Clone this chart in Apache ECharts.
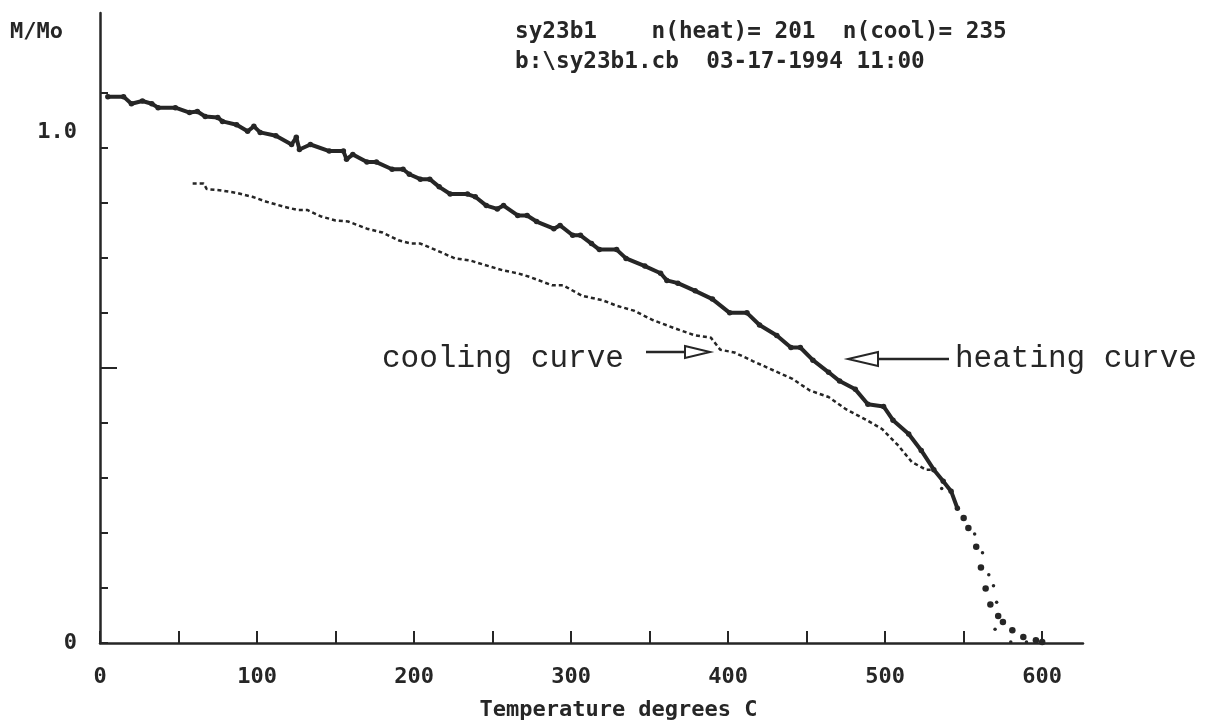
<!DOCTYPE html>
<html>
<head>
<meta charset="utf-8">
<script src="https://cdn.jsdelivr.net/npm/echarts@6/dist/echarts.min.js"></script>
<style>
html,body{margin:0;padding:0;background:#fff;}
#chart{width:1209px;height:723px;}
</style>
</head>
<body>
<div id="chart"></div>
<script>
// ---- data ----
var heatT = [5,15,20,27,33,37,48,57,62,67,75,78,87,94,98,102,112,122,125,127,134,146,155,157,161,170,176,186,193,197,204,210,216,223,234,239,246,253,257,266,272,278,289,293,301,306,313,318,329,335,347,357,361,368,379,390,401,412,420,431,440,446,454,464,471,481,489,499,505,515,523,531,537,542,546,
             550,553,558,561,564,567,572,575,581,588,596,600];
var heatM = [0.993,0.993,0.980,0.985,0.980,0.973,0.973,0.964,0.966,0.957,0.955,0.948,0.942,0.930,0.939,0.928,0.922,0.906,0.919,0.897,0.906,0.894,0.894,0.879,0.888,0.874,0.874,0.861,0.861,0.852,0.843,0.843,0.829,0.816,0.816,0.811,0.795,0.789,0.795,0.777,0.777,0.766,0.753,0.759,0.741,0.741,0.726,0.715,0.715,0.699,0.685,0.672,0.659,0.654,0.640,0.625,0.600,0.600,0.578,0.559,0.537,0.537,0.514,0.492,0.476,0.461,0.434,0.430,0.405,0.380,0.350,0.315,0.294,0.276,0.245,
             0.227,0.209,0.175,0.137,0.099,0.070,0.049,0.038,0.023,0.011,0.005,0.002];
var coolT = [59,66,68,76,87,97,106,117,126,132,141,150,158,170,180,190,198,204,214,226,236,245,257,266,274,288,295,307,320,329,340,352,365,379,389,395,404,416,430,441,452,464,475,487,498,508,517,526,531,
             536,557,562,566,569,571,570,580,590];
var coolM = [0.835,0.835,0.825,0.823,0.818,0.811,0.802,0.793,0.787,0.787,0.775,0.768,0.766,0.753,0.746,0.732,0.726,0.726,0.714,0.699,0.695,0.687,0.677,0.672,0.665,0.650,0.650,0.631,0.623,0.613,0.604,0.587,0.573,0.559,0.555,0.533,0.528,0.512,0.494,0.480,0.459,0.447,0.425,0.407,0.389,0.360,0.329,0.315,0.315,
             0.281,0.198,0.164,0.124,0.104,0.074,0.025,0.002,0.002];
var xTickValues = [0,50,100,150,200,250,300,350,400,450,500,550,600];
var xLabelValues = [0,100,200,300,400,500,600];
var yTickValues = [0,0.1,0.2,0.3,0.4,0.5,0.6,0.7,0.8,0.9,1.0];
var yLabelValues = [0,1.0];
var yLongTick = [0.5];
var headerLine1 = 'sy23b1    n(heat)= 201  n(cool)= 235';
var headerLine2 = 'b:\\sy23b1.cb  03-17-1994 11:00';
var heatTailFrom = 550;   // beyond this the heating points are scattered dots
var coolTailFrom = 536;

function pairs(t, m, keep) {
  var out = [];
  for (var i = 0; i < t.length; i++) if (keep(t[i])) out.push([t[i], m[i]]);
  return out;
}

var ink = '#262626';
var mono = "'DejaVu Sans Mono', monospace";

var chart = echarts.init(document.getElementById('chart'), null, {renderer: 'canvas'});
chart.setOption({
  animation: false,
  backgroundColor: '#fff',
  grid: {left: 100, right: 126, top: 13, bottom: 80, containLabel: false, outerBoundsMode: 'none'},
  xAxis: {
    type: 'value', min: 0, max: 626, interval: 50,
    axisLine: {show: true, onZero: false, lineStyle: {color: ink, width: 2.5}},
    axisTick: {show: true, inside: true, length: 12, lineStyle: {color: ink, width: 2}, customValues: xTickValues},
    axisLabel: {customValues: xLabelValues, margin: 23, fontFamily: mono, fontWeight: 'bold', fontSize: 22, color: ink},
    splitLine: {show: false},
    name: 'Temperature degrees C', nameLocation: 'middle', nameGap: 56,
    nameTextStyle: {fontFamily: mono, fontWeight: 'bold', fontSize: 22, color: ink, padding: [0, 0, 0, 54]}
  },
  yAxis: [{
    type: 'value', min: 0, max: 1.145,
    axisLine: {show: true, onZero: false, lineStyle: {color: ink, width: 2.5}},
    axisTick: {show: true, inside: true, length: 8, lineStyle: {color: ink, width: 2}, customValues: yTickValues},
    axisLabel: {
      customValues: yLabelValues, margin: 23, fontFamily: mono, fontWeight: 'bold', fontSize: 22, color: ink,
      formatter: function (v) { return v === 0 ? '0' : '{one|1.0}'; },
      rich: {one: {fontFamily: mono, fontWeight: 'bold', fontSize: 22, color: ink, padding: [78, 0, 0, 0]}}
    },
    splitLine: {show: false},
    name: 'M/Mo', nameLocation: 'end', nameGap: -19,
    nameTextStyle: {fontFamily: mono, fontWeight: 'bold', fontSize: 22, color: ink, align: 'right', verticalAlign: 'middle', padding: [0, 37, 0, 0]}
  }, {
    type: 'value', min: 0, max: 1.145, position: 'left',
    axisLine: {show: false},
    axisTick: {show: true, inside: true, length: 17, lineStyle: {color: ink, width: 2}, customValues: yLongTick},
    axisLabel: {show: false},
    splitLine: {show: false}
  }],
  series: [{
    name: 'heating', type: 'line', showSymbol: true, symbol: 'circle', symbolSize: 5.5,
    data: pairs(heatT, heatM, function (t) { return t < heatTailFrom; }),
    lineStyle: {color: ink, width: 4}, itemStyle: {color: ink, opacity: 1}, z: 3
  }, {
    name: 'heating tail', type: 'scatter', symbolSize: 6.5,
    data: pairs(heatT, heatM, function (t) { return t >= heatTailFrom; }),
    itemStyle: {color: ink, opacity: 1}, z: 3
  }, {
    name: 'cooling', type: 'line', showSymbol: false, symbol: 'none',
    data: pairs(coolT, coolM, function (t) { return t < coolTailFrom; }),
    lineStyle: {color: ink, width: 2.5, type: [4, 3]}, z: 2
  }, {
    name: 'cooling tail', type: 'scatter', symbolSize: 3.5,
    data: pairs(coolT, coolM, function (t) { return t >= coolTailFrom; }),
    itemStyle: {color: ink, opacity: 1}, z: 2
  }],
  graphic: [
    {type: 'text', left: 515, top: 21, style: {text: headerLine1, font: "bold 22.7px 'DejaVu Sans Mono', monospace", fill: ink}},
    {type: 'text', left: 515, top: 51, style: {text: headerLine2, font: "bold 22.7px 'DejaVu Sans Mono', monospace", fill: ink}},
    {type: 'text', x: 382, y: 359, style: {text: 'cooling curve', font: "31px 'Liberation Mono', monospace", fill: ink, textVerticalAlign: 'middle'}},
    {type: 'text', x: 955, y: 359, style: {text: 'heating curve', font: "31px 'Liberation Mono', monospace", fill: ink, textVerticalAlign: 'middle'}},
    {type: 'polyline', shape: {points: [[646, 352], [685, 352]]}, style: {stroke: ink, lineWidth: 2.5}},
    {type: 'polygon', shape: {points: [[685, 346], [710, 352], [685, 358]]}, style: {stroke: ink, fill: '#fff', lineWidth: 2}},
    {type: 'polyline', shape: {points: [[878, 359], [949, 359]]}, style: {stroke: ink, lineWidth: 2.5}},
    {type: 'polygon', shape: {points: [[878, 352], [848, 359], [878, 366]]}, style: {stroke: ink, fill: '#fff', lineWidth: 2}}
  ]
});
</script>
</body>
</html>
